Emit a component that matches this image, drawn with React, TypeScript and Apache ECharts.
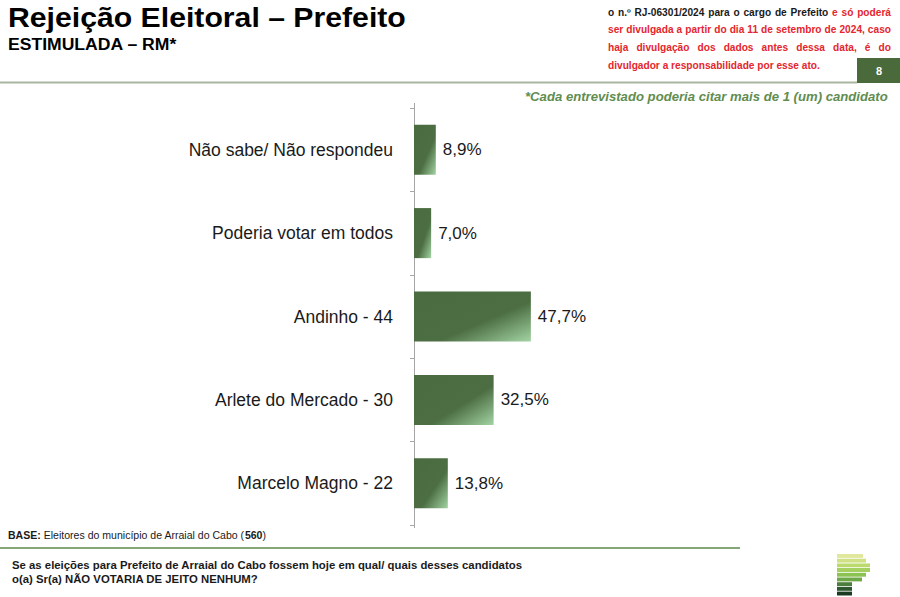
import React, { useEffect, useRef } from "react";
import * as echarts from "echarts";

const categories = [
  "Não sabe/ Não respondeu",
  "Poderia votar em todos",
  "Andinho - 44",
  "Arlete do Mercado - 30",
  "Marcelo Magno - 22",
];
const values = [8.9, 7.0, 47.7, 32.5, 13.8];

const titleText = "Rejeição Eleitoral – Prefeito";
const subtitleText = "ESTIMULADA – RM*";
const noteText = "*Cada entrevistado poderia citar mais de 1 (um) candidato";
const pageNumber = "8";
const disclaimerLine1Black = "o n.º RJ-06301/2024 para o cargo de Prefeito";
const disclaimerLine1Red = "e só poderá";
const disclaimerLines = [
  "ser divulgada a partir do dia 11 de setembro de 2024, caso",
  "haja divulgação dos dados antes dessa data, é do",
  "divulgador a responsabilidade por esse ato.",
];
const baseLabel = "BASE:";
const baseText = "Eleitores do município de Arraial do Cabo";
const baseCount = "560";
const questionLines = [
  "Se as eleições para Prefeito de Arraial do Cabo fossem hoje em qual/ quais desses candidatos",
  "o(a) Sr(a) NÃO VOTARIA DE JEITO NENHUM?",
];

const FAMILY = '"Liberation Sans", Arial, sans-serif';
const RED = "#e5262e";
const DARK = "#1a1a1a";
const GREEN_BOX = "#4a6a3c";

const logoColors = ["#dfe89c", "#cfe184", "#bcd96e", "#a5cf5e", "#8cc252", "#6ea848", "#4c7f3e", "#2e5830", "#1b3a22"];
const logoWidths = [26, 29, 33, 33, 29, 25, 15, 15, 15];

let measureCtx: CanvasRenderingContext2D | null = null;
function measure(text: string, font: string): number {
  if (!measureCtx) measureCtx = document.createElement("canvas").getContext("2d");
  measureCtx!.font = font;
  return measureCtx!.measureText(text).width;
}
function fontStr(size: number, bold?: boolean, italic?: boolean) {
  return `${italic ? "italic " : ""}${bold ? "bold " : ""}${size}px ${FAMILY}`;
}

type Run = { text: string; bold?: boolean; italic?: boolean; color?: string };

function runsGroup(runs: Run[], x: number, y: number, size: number, opt: { width?: number; scale?: number } = {}) {
  const children: any[] = [];
  let cx = 0;
  const spaceW = (r: Run) => measure(" ", fontStr(size, r.bold, r.italic));
  runs.forEach((r) => {
    const f = fontStr(size, r.bold, r.italic);
    const lead = r.text.length - r.text.trimStart().length;
    cx += lead * spaceW(r);
    const t = r.text.trim();
    children.push({
      type: "text",
      x: cx,
      y: 0,
      style: { text: t, font: f, fill: r.color || DARK, textAlign: "left", textVerticalAlign: "middle" },
    });
    cx += measure(t, f);
    const trail = r.text.length - r.text.trimEnd().length;
    if (trail > 0 && t.length > 0) cx += trail * spaceW(r);
  });
  const scaleX = opt.width ? opt.width / cx : opt.scale || 1;
  return { group: { type: "group", x, y, scaleX, children }, natural: cx, scaleX };
}

function justifiedGroup(words: Run[], x: number, y: number, size: number, width: number, scale: number) {
  const local = width / scale;
  const widths = words.map((w) => measure(w.text, fontStr(size, w.bold)));
  const sum = widths.reduce((a, b) => a + b, 0);
  const gap = (local - sum) / (words.length - 1);
  const children: any[] = [];
  let cx = 0;
  words.forEach((w, i) => {
    children.push({
      type: "text",
      x: cx,
      y: 0,
      style: { text: w.text, font: fontStr(size, w.bold), fill: w.color || DARK, textAlign: "left", textVerticalAlign: "middle" },
    });
    cx += widths[i] + gap;
  });
  return { type: "group", x, y, scaleX: scale, children };
}

function buildGraphics() {
  const g: any[] = [];
  // Title & subtitle
  g.push(runsGroup([{ text: titleText, bold: true, color: "#000" }], 8, 18, 27, { width: 398 }).group);
  g.push(runsGroup([{ text: subtitleText, bold: true, color: "#000" }], 8, 45, 16, { width: 169 }).group);

  // Disclaimer (justified, red)
  const last = runsGroup([{ text: disclaimerLines[2], bold: true, color: RED }], 608, 65.5, 10, { width: 212 });
  const sc = last.scaleX;
  const w1: Run[] = [
    ...disclaimerLine1Black.split(" ").map((t) => ({ text: t, bold: true, color: DARK })),
    ...disclaimerLine1Red.split(" ").map((t) => ({ text: t, bold: true, color: RED })),
  ];
  g.push(justifiedGroup(w1, 608, 12.5, 10, 283, sc));
  g.push(justifiedGroup(disclaimerLines[0].split(" ").map((t) => ({ text: t, bold: true, color: RED })), 608, 30, 10, 283, sc));
  g.push(justifiedGroup(disclaimerLines[1].split(" ").map((t) => ({ text: t, bold: true, color: RED })), 608, 47.5, 10, 283, sc));
  g.push(last.group);

  // Top rule and page box
  g.push({ type: "line", shape: { x1: 0, y1: 82.5, x2: 857, y2: 82.5 }, style: { stroke: "#a9b59f", lineWidth: 2 } });
  g.push({ type: "rect", shape: { x: 857, y: 58, width: 43, height: 25 }, style: { fill: GREEN_BOX } });
  g.push({
    type: "text",
    x: 879,
    y: 71,
    style: { text: pageNumber, font: fontStr(11, true), fill: "#fff", textAlign: "center", textVerticalAlign: "middle" },
  });

  // Note
  g.push(runsGroup([{ text: noteText, bold: true, italic: true, color: "#5f8d4f" }], 525, 96.5, 13, { width: 363 }).group);

  // Base
  g.push(
    runsGroup(
      [
        { text: baseLabel, bold: true, color: DARK },
        { text: " " + baseText + " (", color: DARK },
        { text: baseCount, bold: true, color: DARK },
        { text: ")", color: DARK },
      ],
      8,
      536,
      10,
      { width: 258 }
    ).group
  );
  g.push({ type: "line", shape: { x1: 0, y1: 548, x2: 740, y2: 548 }, style: { stroke: "#5b8a4c", lineWidth: 1.5 } });

  // Question
  const q1 = runsGroup([{ text: questionLines[0], bold: true, color: DARK }], 12, 565, 11, { width: 511 });
  g.push(q1.group);
  g.push(runsGroup([{ text: questionLines[1], bold: true, color: DARK }], 12, 579, 11, { scale: q1.scaleX }).group);

  // Logo
  logoColors.forEach((c, i) => {
    g.push({ type: "rect", shape: { x: 837, y: 554 + i * 4.7, width: logoWidths[i], height: 3.9 }, style: { fill: c } });
  });
  // axis line extension (the reference axis runs slightly past the bands)
  g.push({ type: "line", z: -1, shape: { x1: 414.5, y1: 103, x2: 414.5, y2: 528 }, style: { stroke: "#a6a6a6", lineWidth: 1 } });
  return g;
}

export default function App() {
  const ref = useRef<HTMLDivElement>(null);
  useEffect(() => {
    if (!ref.current) return;
    const chart = echarts.init(ref.current, null, { renderer: "svg" });
    const barGradient = new echarts.graphic.LinearGradient(0, 0, 1, 1, [
      { offset: 0, color: "#4a6b40" },
      { offset: 0.6, color: "#4c6e42" },
      { offset: 1, color: "#a3d4a3" },
    ]);
    chart.setOption({
      animation: false,
      backgroundColor: "#ffffff",
      grid: { left: 414, top: 108, width: 245, height: 417, containLabel: false },
      xAxis: { type: "value", min: 0, max: 100, show: false },
      yAxis: {
        type: "category",
        data: categories,
        inverse: true,
        axisLine: { show: true, lineStyle: { color: "#a6a6a6", width: 1 } },
        axisTick: { show: true, length: 4, lineStyle: { color: "#a6a6a6" } },
        axisLabel: { fontSize: 17.5, color: DARK, fontFamily: FAMILY, margin: 21 },
      },
      series: [
        {
          type: "bar",
          data: values,
          barWidth: "60%",
          itemStyle: { color: barGradient },
          label: {
            show: true,
            position: "right",
            distance: 7,
            fontSize: 17,
            color: DARK,
            fontFamily: FAMILY,
            formatter: (p: any) => p.value.toFixed(1).replace(".", ",") + "%",
          },
        },
      ],
      graphic: buildGraphics(),
    });
    return () => chart.dispose();
  }, []);
  return <div ref={ref} style={{ position: "absolute", left: 0, top: 0, width: 900, height: 597 }} />;
}
